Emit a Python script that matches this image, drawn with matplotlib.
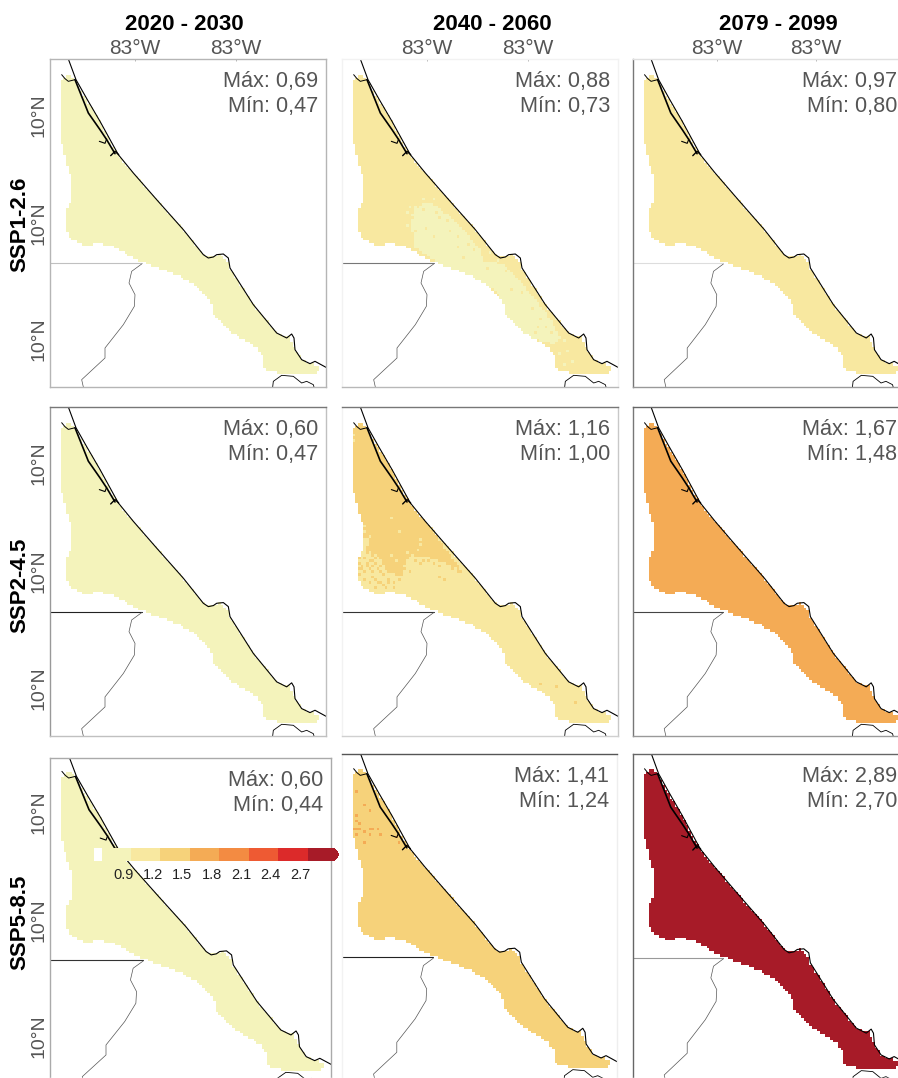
import numpy as np
import matplotlib
matplotlib.use('Agg')
import matplotlib.pyplot as plt
from matplotlib.colors import ListedColormap, BoundaryNorm
from matplotlib.path import Path
from matplotlib.cm import ScalarMappable
from matplotlib.transforms import ScaledTranslation

plt.rcParams['font.family'] = ['Liberation Sans', 'DejaVu Sans']

W, H = 898, 1078

periods = ['2020 - 2030', '2040 - 2060', '2079 - 2099']
scenarios = ['SSP1-2.6', 'SSP2-4.5', 'SSP5-8.5']
lon_labels = ['83°W', '83°W']
lat_labels = ['10°N', '10°N', '10°N']
lon_ticks = [405, 708]
lat_ticks = [346, 670, 1018]

max_values = [[0.69, 0.88, 0.97], [0.60, 1.16, 1.67], [0.60, 1.41, 2.89]]
min_values = [[0.47, 0.73, 0.80], [0.47, 1.00, 1.48], [0.44, 1.24, 2.70]]
# valeur dominante de chaque panneau
base_values = [[0.60, 0.82, 0.88], [0.55, 1.03, 1.58], [0.52, 1.30, 2.80]]

levels = [0.373, 0.45, 0.75, 1.05, 1.35, 1.65, 1.95, 2.25, 2.55, 2.82]
level_colors = ['#ffffff', '#f4f3bb', '#f8e8a0', '#f6d27a', '#f4ab55',
                '#f38b42', '#ee5a33', '#dc2a2a', '#a71b28']
cbar_ticks = [0.75, 1.05, 1.35, 1.65, 1.95, 2.25, 2.55]
cbar_labels = ['0.9', '1.2', '1.5', '1.8', '2.1', '2.4', '2.7']

# contours de la carte (unites de carte)
region = [(185, 240), (205, 226), (225, 240), (240, 275), (290, 350), (355, 470), (400, 520),
          (470, 600), (550, 690), (610, 765), (640, 775), (660, 765), (685, 790), (690, 810),
          (760, 915), (830, 1000), (870, 1015), (885, 1050), (905, 1080), (930, 1090),
          (962, 1105), (945, 1125), (860, 1125), (795, 1110), (790, 1075), (770, 1045),
          (700, 1000), (640, 940), (630, 900), (590, 860), (530, 825), (460, 800), (400, 775),
          (340, 740), (300, 732), (250, 737), (215, 720), (198, 690), (198, 640), (218, 590),
          (218, 550), (195, 470), (185, 430), (183, 260)]
coast = [(205, 178), (228, 240), (262, 300), (300, 365), (355, 465), (400, 520), (470, 600),
         (550, 690), (610, 765), (625, 775), (640, 772), (650, 765), (670, 763), (685, 775),
         (690, 805), (760, 915), (830, 1000), (860, 1015), (875, 1003), (882, 1015), (885, 1050),
         (905, 1080), (930, 1092), (945, 1085), (978, 1103)]
lagoon_north = [(185, 225), (195, 237), (205, 245), (225, 240)]
lagoon = [(225, 240), (235, 265), (245, 290), (265, 340), (300, 390), (320, 420), (345, 462)]
lagoon_bit1 = [(298, 425), (315, 431), (320, 418)]
lagoon_bit2 = [(332, 468), (345, 455), (356, 465)]
border_h = [(150, 790), (425, 790)]
border_v = [(425, 793), (395, 815), (387, 850), (405, 885), (403, 920), (370, 975), (315, 1045),
            (315, 1075), (245, 1140), (250, 1162)]
border_se = [(818, 1162), (820, 1145), (845, 1127), (880, 1130), (905, 1150), (920, 1145),
             (940, 1155), (942, 1162)]

# SSP2-4.5, 2040-2060 : zone nord plus chaude
zone_245_north = [(170, 220), (240, 220), (400, 520), (515, 675), (460, 645), (400, 625),
                  (350, 625), (325, 685), (285, 670), (260, 625), (220, 605), (235, 580),
                  (210, 570), (200, 520), (170, 440)]
cells_245_warm = [(200, 630), (210, 650), (225, 645), (205, 675), (220, 670), (235, 665),
                  (250, 690), (265, 700), (280, 715), (305, 705), (305, 720), (250, 715),
                  (220, 695), (460, 690), (440, 685), (460, 695), (410, 635), (425, 645),
                  (350, 670), (335, 665), (240, 640), (255, 660), (270, 680), (905, 1060),
                  (790, 1010), (745, 1005), (850, 1065),
                  (205, 615), (222, 612), (238, 622), (214, 630), (230, 634), (247, 628),
                  (198, 645), (238, 652), (252, 645), (264, 652), (212, 662), (228, 657),
                  (244, 672), (262, 668), (278, 664), (198, 662), (286, 690), (270, 712),
                  (238, 684), (254, 702), (232, 704), (292, 702), (318, 695), (330, 680),
                  (370, 640), (386, 648), (395, 635), (480, 665), (497, 672), (440, 655)]
cells_245_cool = [(185, 262), (185, 278), (215, 530), (215, 546), (230, 562), (222, 570),
                  (295, 510), (385, 570), (385, 586), (378, 602), (325, 550), (315, 640),
                  (300, 620), (345, 610), (362, 622)]
# SSP1-2.6, 2040-2060 : zone moins chaude
zone_126_pale = [(355, 663), (370, 618), (415, 608), (465, 643), (525, 703), (565, 753),
                 (575, 783), (635, 793), (675, 833), (765, 943), (805, 1013), (785, 1033),
                 (705, 1013), (645, 953), (615, 873), (525, 833), (445, 793), (370, 743)]
cells_126_warm = [(445, 653), (405, 683), (475, 693), (495, 743), (585, 803), (645, 813),
                  (655, 873), (765, 983), (735, 983), (425, 713), (515, 773),
                  (378, 625), (362, 650), (395, 630), (430, 640), (372, 690), (352, 700),
                  (465, 665), (500, 710), (530, 730), (548, 750), (690, 880), (720, 925),
                  (748, 960), (780, 1000), (728, 1000)]
cells_126_pale = [(825, 1053), (845, 1083), (805, 1063), (820, 1090), (345, 640), (345, 680),
                  (352, 625), (395, 595), (425, 600), (590, 760), (620, 780), (700, 860),
                  (760, 905), (790, 960), (820, 1020)]
# SSP5-8.5, 2040-2060 : taches au nord-ouest
cells_585_warm = [(190, 367), (195, 382), (185, 402), (195, 402), (190, 422), (200, 392),
                  (205, 407), (220, 332), (230, 352), (190, 297), (230, 402), (245, 402),
                  (260, 407), (265, 422), (235, 422), (215, 417), (215, 447), (325, 442),
                  (315, 427), (370, 487)]

# position des panneaux en pixels : gauche, haut, droite, bas
columns_px = [(50, 326), (342, 618), (633, 905)]
rows_px = [(59, 387), (407, 736), (758, 1078)]
row3_top = [758, 754, 754]
row3_right = [331, 617, 905]
row3_ylim = [(1144, 185), (1152, 181), (1149, 181)]

# couleurs des cadres : gauche, haut, droite, bas
spine_colors = [[('#b5b5b5', '#b5b5b5', '#b5b5b5', '#b5b5b5'), ('#f2f2f2', '#f2f2f2', '#f2f2f2', '#b8b8b8'),
                 ('#777777', '#e0e0e0', '#e0e0e0', '#999999')],
                [('#999999', '#777777', '#c0c0c0', '#c0c0c0'), ('#f2f2f2', '#777777', '#c8c8c8', '#d0d0d0'),
                 ('#777777', '#666666', '#d0d0d0', '#999999')],
                [('#aaaaaa', '#aaaaaa', '#aaaaaa', '#ffffff'), ('#f2f2f2', '#555555', '#eeeeee', '#ffffff'),
                 ('#666666', '#666666', '#eeeeee', '#ffffff')]]
border_colors = [['#c0c0c0', '#777777', '#dddddd'],
                 ['#222222', '#333333', '#444444'],
                 ['#333333', '#222222', '#999999']]

cmap = ListedColormap(level_colors)
cmap.set_over('#a71b28')
norm = BoundaryNorm(levels, cmap.N)

# grille du modele
x_edges = np.arange(150, 986, 8)
y_edges = np.arange(178, 1170, 8)
xc, yc = np.meshgrid((x_edges[:-1] + x_edges[1:]) / 2, (y_edges[:-1] + y_edges[1:]) / 2)
points = np.column_stack([xc.ravel(), yc.ravel()])


def in_polygon(poly):
    return Path(poly).contains_points(points).reshape(xc.shape)


def set_cells(field, cells, value):
    for x, y in cells:
        j = int((x - x_edges[0]) // 8)
        i = int((y - y_edges[0]) // 8)
        if not np.isnan(field[i, j]):
            field[i, j] = value


mask = in_polygon(region)


def make_field(r, c):
    field = np.where(mask, base_values[r][c], np.nan)
    if (r, c) == (0, 1):
        field[mask & in_polygon(zone_126_pale)] = 0.74
        set_cells(field, cells_126_warm, 0.80)
        set_cells(field, cells_126_pale, 0.74)
    if (r, c) == (1, 1):
        field[mask & in_polygon(zone_245_north)] = 1.10
        set_cells(field, cells_245_warm, 1.10)
        set_cells(field, cells_245_cool, 1.03)
    if (r, c) == (2, 1):
        set_cells(field, cells_585_warm, 1.38)
    return field


def draw_line(ax, pts, color='black', lw=0.9):
    ax.plot([p[0] for p in pts], [p[1] for p in pts], color=color, lw=lw, solid_capstyle='round')


fig = plt.figure(figsize=(W / 100, H / 100), dpi=100)

for r in range(3):
    for c in range(3):
        left, right = columns_px[c]
        top, bottom = rows_px[r]
        ylim = (1162, 178)
        if r == 2:
            top = row3_top[c]
            right = row3_right[c]
            ylim = row3_ylim[c]
        ax = fig.add_axes([left / W, 1 - bottom / H, (right - left) / W, (bottom - top) / H])
        ax.pcolormesh(x_edges, y_edges, make_field(r, c), cmap=cmap, norm=norm, antialiased=False)
        draw_line(ax, coast, lw=0.8)
        draw_line(ax, lagoon_north, lw=0.7)
        draw_line(ax, lagoon, lw=1.2)
        draw_line(ax, lagoon_bit1, lw=0.8)
        draw_line(ax, lagoon_bit2, lw=1.0)
        draw_line(ax, border_h, color=border_colors[r][c], lw=0.8)
        draw_line(ax, border_v, color='#555555', lw=0.5)
        draw_line(ax, border_se, lw=0.6)
        ax.set_xlim(150, 978)
        ax.set_ylim(*ylim)

        for side, col in zip(['left', 'top', 'right', 'bottom'], spine_colors[r][c]):
            ax.spines[side].set_color(col)
            ax.spines[side].set_linewidth(1.0)

        ax.xaxis.tick_top()
        if r == 0:
            ax.set_xticks(lon_ticks, lon_labels)
        else:
            ax.set_xticks([])
        if c == 0:
            ax.set_yticks(lat_ticks, lat_labels, rotation=90, va='center')
        else:
            ax.set_yticks([])
        ax.tick_params(axis='x', length=1.5, width=0.5, color='#999999', direction='in',
                       pad=0.5, labelsize=15, labelcolor='#555555')
        ax.tick_params(axis='y', length=0, pad=1.5, labelsize=14, labelcolor='#555555')

        ax.annotate('Máx: ' + f'{max_values[r][c]:.2f}'.replace('.', ','), xy=(1, 1),
                    xycoords='axes fraction', xytext=(-5.8, -16), textcoords='offset points',
                    ha='right', va='center', fontsize=15.6, color='#555555')
        ax.annotate('Mín: ' + f'{min_values[r][c]:.2f}'.replace('.', ','), xy=(1, 1),
                    xycoords='axes fraction', xytext=(-5.8, -34.5), textcoords='offset points',
                    ha='right', va='center', fontsize=15.6, color='#555555')

for name, x in zip(periods, [184, 492, 778]):
    fig.text(x / W, 1 - 24 / H, name, ha='center', va='center', fontsize=16, fontweight='bold')
for name, y in zip(scenarios, [224, 585, 922]):
    fig.text(19.5 / W, 1 - y / H, name, rotation=90, ha='center', va='center',
             fontsize=16, fontweight='bold')

# barre de couleurs posee sur le panneau en bas a gauche
cax = fig.add_axes([94 / W, 1 - 861 / H, 245 / W, 13 / H])
cbar = fig.colorbar(ScalarMappable(norm=norm, cmap=cmap), cax=cax, orientation='horizontal',
                    extend='max', extendfrac=0.02, spacing='proportional')
cbar.outline.set_visible(False)
cbar.set_ticks(cbar_ticks, labels=cbar_labels)
cax.tick_params(axis='x', length=0, pad=5, labelsize=10.5, labelcolor='#222222')
cax.minorticks_off()
shift = ScaledTranslation(2.7 / 100, 0, fig.dpi_scale_trans)
for label in cax.get_xticklabels():
    label.set_ha('right')
    label.set_transform(label.get_transform() + shift)

fig.savefig('out.png', dpi=100)
